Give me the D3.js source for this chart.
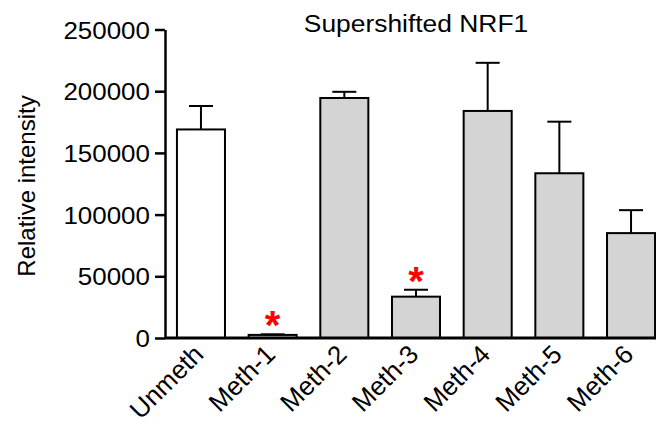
<!DOCTYPE html>
<html>
<head>
<meta charset="utf-8">
<title>Supershifted NRF1</title>
<script src="https://d3js.org/d3.v7.min.js" charset="utf-8"></script>
<style>
  html, body { margin: 0; padding: 0; background: #fff; }
  svg text { font-family: "Liberation Sans", Arial, sans-serif; fill: #000; }
</style>
</head>
<body>
<script>
// chart values
var categories = ["Unmeth", "Meth-1", "Meth-2", "Meth-3", "Meth-4", "Meth-5", "Meth-6"];
var means  = [169000, 2500, 194500, 33500, 184000, 133500, 85000];
var errors = [19000, 500, 5000, 5600, 39000, 41800, 18600];
var starred = [false, true, false, true, false, false, false];
var yTicks = [0, 50000, 100000, 150000, 200000, 250000];

var width = 656, height = 424;

var svg = d3.select("body").append("svg")
    .attr("width", width)
    .attr("height", height);

var x = d3.scaleBand()
    .domain(categories)
    .range([170.5, 661.5])
    .paddingInner(0.33)
    .paddingOuter(0.09);

var y = d3.scaleLinear()
    .domain([0, 250000])
    .range([338, 29.5]);

var rows = categories.map(function(c, i) {
  return {name: c, mean: means[i], err: errors[i], star: starred[i]};
});

// bars
svg.selectAll("rect.bar")
  .data(rows)
  .enter().append("rect")
    .attr("class", "bar")
    .attr("x", function(d) { return x(d.name); })
    .attr("y", function(d) { return y(d.mean); })
    .attr("width", x.bandwidth())
    .attr("height", function(d) { return y(0) - y(d.mean); })
    .attr("fill", function(d, i) { return i === 0 ? "#ffffff" : "#d4d4d4"; })
    .attr("stroke", "#000")
    .attr("stroke-width", 2);

// error bars (upper only)
var eb = svg.selectAll("g.err")
  .data(rows)
  .enter().append("g")
    .attr("class", "err")
    .attr("stroke", "#000")
    .attr("stroke-width", 2);

eb.append("line")
    .attr("x1", function(d) { return x(d.name) + x.bandwidth() / 2; })
    .attr("x2", function(d) { return x(d.name) + x.bandwidth() / 2; })
    .attr("y1", function(d) { return y(d.mean); })
    .attr("y2", function(d) { return y(d.mean + d.err); });

eb.append("line")
    .attr("x1", function(d) { return x(d.name) + x.bandwidth() / 4; })
    .attr("x2", function(d) { return x(d.name) + x.bandwidth() * 3 / 4; })
    .attr("y1", function(d) { return y(d.mean + d.err); })
    .attr("y2", function(d) { return y(d.mean + d.err); });

// significance stars
svg.selectAll("text.star")
  .data(rows.filter(function(d) { return d.star; }))
  .enter().append("text")
    .attr("class", "star")
    .attr("x", function(d) { return x(d.name) + x.bandwidth() / 2; })
    .attr("y", function(d) { return y(d.mean + d.err) + 5; })
    .attr("text-anchor", "middle")
    .style("font-size", "40px")
    .style("font-weight", "bold")
    .style("fill", "#ff0000")
    .text("*");

// y axis
var yAxis = svg.append("g")
    .attr("transform", "translate(165,0)")
    .call(d3.axisLeft(y)
      .tickValues(yTicks)
      .tickSize(10)
      .tickSizeOuter(0)
      .tickPadding(4)
      .tickFormat(d3.format("d")));

yAxis.select(".domain").attr("stroke-width", 2.5);
yAxis.selectAll(".tick line").attr("stroke-width", 2.5);
yAxis.selectAll(".tick text")
    .style("font-size", "24px")
    .attr("dy", "0.36em")
    .attr("transform", "scale(1.08,1)");

// x baseline
svg.append("line")
    .attr("x1", 165)
    .attr("x2", width)
    .attr("y1", y(0))
    .attr("y2", y(0))
    .attr("stroke", "#000")
    .attr("stroke-width", 3);

// x labels, rotated
svg.selectAll("text.xlab")
  .data(categories)
  .enter().append("text")
    .attr("class", "xlab")
    .attr("transform", function(d) {
      return "translate(" + (x(d) + x.bandwidth() / 2 + 4) + ",356) rotate(-45)";
    })
    .attr("text-anchor", "end")
    .style("font-size", "26px")
    .text(function(d) { return d; });

// y axis title
svg.append("text")
    .attr("transform", "translate(35,186) rotate(-90)")
    .attr("text-anchor", "middle")
    .style("font-size", "24px")
    .text("Relative intensity");

// chart title
svg.append("g")
    .attr("transform", "translate(416,31.5)")
  .append("text")
    .attr("transform", "scale(1.1,1)")
    .attr("text-anchor", "middle")
    .style("font-size", "24px")
    .text("Supershifted NRF1");
</script>
</body>
</html>
